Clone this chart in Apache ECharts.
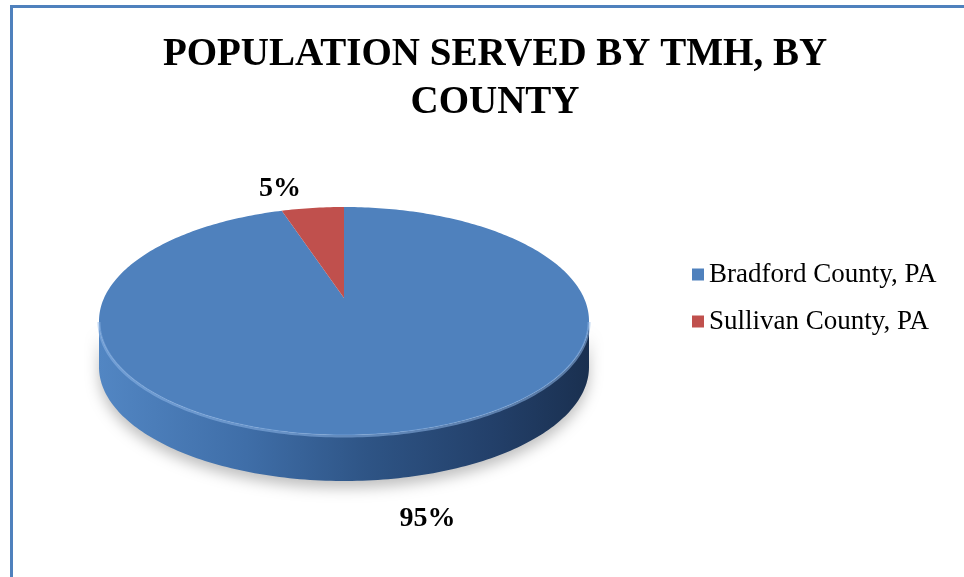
<!DOCTYPE html>
<html><head><meta charset="utf-8">
<script src="https://cdn.jsdelivr.net/npm/echarts@6/dist/echarts.min.js"></script>
<style>
html,body{margin:0;padding:0;background:#fff}
#c{width:964px;height:577px;position:absolute;left:0;top:0}
#frame{position:absolute;left:10px;top:5px;width:954px;height:572px;border-left:3px solid #4f81bd;border-top:3px solid #4f81bd;box-sizing:border-box;pointer-events:none}
</style>
</head><body><div id="c"></div><div id="frame"></div>
<script>
// ---- data ----
const titleLines = ['POPULATION SERVED BY TMH, BY', 'COUNTY'];
const counties = ['Bradford County, PA', 'Sullivan County, PA'];
const shares = [95, 5];

// ---- styles / layout ----
const colors = ['#4f81bd', '#c0504d'];
// ellipse of the top face; persp = perspective shift of the pie centre (fraction of ry)
const geo = { cx: 344, cy: 321, rx: 245, ry: 114, depth: 46, persp: -0.2018, labelOut: 30 };
const labelNudge = [[32, 10], [-28, 10]];
const serif = '"Liberation Serif", "DejaVu Serif", serif';

const total = shares.reduce((a, b) => a + b, 0);
const starts = [];
shares.reduce((acc, v, i) => { starts[i] = acc; return acc + v; }, 0);

const ka = Math.sqrt(1 - geo.persp * geo.persp);
// perspective projection of a unit circle point (angle t clockwise from 12 o'clock)
function rim(t, dy) {
  const u = Math.sin(t), v = -Math.cos(t), w = 1 + geo.persp * v;
  return [geo.cx + geo.rx * ka * u / w, geo.cy + geo.ry * (v + geo.persp) / w + dy];
}
function arcPts(a, b, dy) {
  const n = Math.max(2, Math.ceil(Math.abs(b - a) / (Math.PI / 180)));
  const pts = [];
  for (let k = 0; k <= n; k++) pts.push(rim(a + (b - a) * k / n, dy));
  return pts;
}
const visA = Math.acos(geo.persp), visB = Math.PI * 2 - Math.acos(geo.persp);

function renderSlice(idx) {
  return function (params, api) {
    const start = api.value(0), val = api.value(1), tot = api.value(2);
    const a1 = start / tot * Math.PI * 2, a2 = (start + val) / tot * Math.PI * 2;
    const children = [];
    // side wall (front visible part)
    const s = Math.max(a1, visA), e = Math.min(a2, visB);
    if (e > s) {
      const top = arcPts(s, e, 0);
      const bot = arcPts(e, s, geo.depth);
      const sideGrad = idx === 0
        ? [{offset: 0, color: '#5286c3'}, {offset: 0.3, color: '#3f6ea8'}, {offset: 0.55, color: '#2e5485'}, {offset: 0.8, color: '#23406a'}, {offset: 1, color: '#1a3050'}]
        : [{offset: 0, color: '#c55a57'}, {offset: 1, color: '#6e2826'}];
      children.push({
        type: 'polygon', z2: 1,
        shape: { points: top.concat(bot) },
        style: {
          fill: new echarts.graphic.LinearGradient(geo.cx - geo.rx, 0, geo.cx + geo.rx, 0, sideGrad, true),
          shadowBlur: 14, shadowColor: 'rgba(0,0,0,0.25)', shadowOffsetY: 7
        }
      });
      children.push({
        type: 'polyline', z2: 6,
        shape: { points: arcPts(s, e, 1) },
        style: { fill: null, stroke: 'rgba(140,180,230,0.55)', lineWidth: 3 }
      });
    }
    // top face
    const apex = [geo.cx, geo.cy + geo.ry * geo.persp];
    children.push({
      type: 'polygon', z2: 5,
      shape: { points: [apex].concat(arcPts(a1, a2, 0)) },
      style: { fill: api.visual('color') }
    });
    // label
    const m = (a1 + a2) / 2;
    const p = rim(m, Math.cos(m) < 0 ? geo.depth : 0);
    const lx = p[0] + geo.labelOut * Math.sin(m) + labelNudge[idx][0];
    const ly = p[1] - geo.labelOut * Math.cos(m) + labelNudge[idx][1];
    children.push({
      type: 'text', z2: 20,
      style: {
        text: Math.round(val / tot * 100) + '%', x: lx, y: ly,
        fill: '#000', font: 'bold 28px ' + serif, align: 'center', verticalAlign: 'middle'
      }
    });
    return { type: 'group', children };
  };
}

const chart = echarts.init(document.getElementById('c'), null, { renderer: 'canvas' });
chart.setOption({
  animation: false,
  title: {
    text: titleLines.join('\n'), left: 490, top: 26, textAlign: 'center',
    textStyle: { fontFamily: serif, fontWeight: 'bold', fontSize: 39, lineHeight: 48, color: '#000' }
  },
  legend: {
    orient: 'vertical', left: 692, top: 261, itemGap: 20, icon: 'rect', padding: 0,
    itemWidth: 12, itemHeight: 12, selectedMode: false,
    data: counties,
    textStyle: { fontFamily: serif, fontSize: 27, lineHeight: 26, color: '#000' }
  },
  series: counties.map((name, i) => ({
    type: 'custom', name, coordinateSystem: 'none',
    itemStyle: { color: colors[i] },
    renderItem: renderSlice(i),
    data: [[starts[i], shares[i], total]]
  }))
});
</script>
</body></html>
